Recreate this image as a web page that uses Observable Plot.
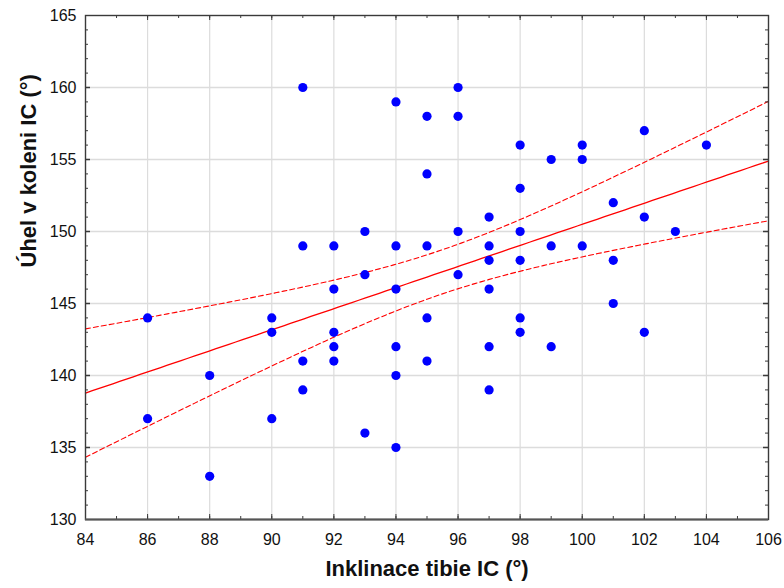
<!DOCTYPE html>
<html>
<head>
<meta charset="utf-8">
<script src="https://cdn.jsdelivr.net/npm/d3@7"></script>
<script src="https://cdn.jsdelivr.net/npm/@observablehq/plot@0.6"></script>
<style>
  html, body { margin: 0; padding: 0; background: #fff; }
  #chart svg { display: block; }
</style>
</head>
<body>
<div id="chart"></div>
<script>
// Inklinace tibie IC (°) vs. úhel v koleni IC (°): one entry per measured knee
const inklinace = [
  86, 86,
  88, 88,
  90, 90, 90,
  91, 91, 91, 91,
  92, 92, 92, 92, 92,
  93, 93, 93,
  94, 94, 94, 94, 94, 94,
  95, 95, 95, 95, 95,
  96, 96, 96, 96,
  97, 97, 97, 97, 97, 97,
  98, 98, 98, 98, 98, 98,
  99, 99, 99,
  100, 100, 100,
  101, 101, 101,
  102, 102, 102,
  103,
  104
];
const uhel = [
  144, 137,
  140, 133,
  144, 143, 137,
  160, 149, 141, 139,
  149, 146, 143, 142, 141,
  150, 147, 136,
  159, 149, 146, 142, 140, 135,
  158, 154, 149, 144, 141,
  160, 158, 150, 147,
  151, 149, 148, 146, 142, 139,
  156, 153, 150, 148, 144, 143,
  155, 149, 142,
  156, 155, 149,
  152, 148, 145,
  157, 151, 143,
  150,
  156
];

// Axis ticks
const xTicks = [84, 86, 88, 90, 92, 94, 96, 98, 100, 102, 104, 106];
const yTicks = [130, 135, 140, 145, 150, 155, 160, 165];
const xMinor = d3.range(84, 107, 1);
const yMinor = d3.range(130, 166, 1);

const xTitle = "Inklinace tibie IC (°)";
const yTitle = "Úhel v koleni IC (°)";

const points = inklinace.map((x, i) => ({x, y: uhel[i]}));

// Ordinary least squares fit with a 95% confidence band for the mean
const n = points.length;
const mx = d3.mean(points, d => d.x);
const my = d3.mean(points, d => d.y);
const sxx = d3.sum(points, d => (d.x - mx) ** 2);
const sxy = d3.sum(points, d => (d.x - mx) * (d.y - my));
const slope = sxy / sxx;
const intercept = my - slope * mx;
const sse = d3.sum(points, d => (d.y - (intercept + slope * d.x)) ** 2);
const se = Math.sqrt(sse / (n - 2));

// Student t quantile (Cornish–Fisher expansion around the normal quantile)
function tQuantile(p, df) {
  const z = 1.959963984540054; // normal quantile for p = 0.975
  const z3 = z ** 3, z5 = z ** 5, z7 = z ** 7;
  return z
    + (z3 + z) / (4 * df)
    + (5 * z5 + 16 * z3 + 3 * z) / (96 * df ** 2)
    + (3 * z7 + 19 * z5 + 17 * z3 - 15 * z) / (384 * df ** 3);
}
const t = tQuantile(0.975, n - 2);

const [x0, x1] = [xTicks[0], xTicks[xTicks.length - 1]];
const fit = d3.range(0, 101).map(i => {
  const x = x0 + (x1 - x0) * i / 100;
  const yhat = intercept + slope * x;
  const half = t * se * Math.sqrt(1 / n + (x - mx) ** 2 / sxx);
  return {x, yhat, lo: yhat - half, hi: yhat + half};
});

const W = 784, H = 588;
const mL = 85, mR = 16, mT = 15, mB = 69;
const plotW = W - mL - mR, plotH = H - mT - mB;
const font = "Arial, 'Liberation Sans', Helvetica, sans-serif";
const gridColor = "#dcdcdc";
const frameColor = "#3a3a3a";

const majorX = xTicks.slice(1, -1);
const majorY = yTicks.slice(1, -1);

const chart = Plot.plot({
  width: W,
  height: H,
  marginLeft: mL,
  marginRight: mR,
  marginTop: mT,
  marginBottom: mB,
  style: {fontFamily: font, background: "#fff", color: "#111"},
  x: {domain: [x0, x1]},
  y: {domain: [yTicks[0], yTicks[yTicks.length - 1]]},
  marks: [
    // grid
    Plot.ruleX(majorX, {stroke: gridColor, strokeWidth: 1.2}),
    Plot.ruleY(majorY, {stroke: gridColor, strokeWidth: 1.6}),

    // fitted line and confidence limits
    Plot.line(fit, {x: "x", y: "hi", stroke: "#ff0000", strokeWidth: 1.1, strokeDasharray: "5,3"}),
    Plot.line(fit, {x: "x", y: "lo", stroke: "#ff0000", strokeWidth: 1.1, strokeDasharray: "5,3"}),
    Plot.line(fit, {x: "x", y: "yhat", stroke: "#ff0000", strokeWidth: 1.3}),

    // observations
    Plot.dot(points, {x: "x", y: "y", r: 4.6, fill: "#0000ff", stroke: "none"}),

    // inward ticks on all four sides of the frame
    Plot.ruleX(xMinor, {stroke: frameColor, insetTop: plotH - 3}),
    Plot.ruleX(xMinor, {stroke: frameColor, insetBottom: plotH - 3}),
    Plot.ruleX(majorX, {stroke: frameColor, insetTop: plotH - 5}),
    Plot.ruleX(majorX, {stroke: frameColor, insetBottom: plotH - 5}),
    Plot.ruleY(yMinor, {stroke: frameColor, insetRight: plotW - 3}),
    Plot.ruleY(yMinor, {stroke: frameColor, insetLeft: plotW - 3}),
    Plot.ruleY(majorY, {stroke: frameColor, insetRight: plotW - 5, strokeWidth: 1.5}),
    Plot.ruleY(majorY, {stroke: frameColor, insetLeft: plotW - 5, strokeWidth: 1.5}),

    Plot.frame({stroke: frameColor, strokeWidth: 1.4}),
    Plot.ruleY([yTicks[0]], {stroke: "#555", strokeWidth: 2.2}),

    // tick labels
    Plot.axisX({ticks: xTicks, tickSize: 0, tickPadding: 14, fontSize: 16, label: null, tickFormat: d => d}),
    Plot.axisY({ticks: yTicks, tickSize: 0, tickPadding: 9, fontSize: 16, label: null, tickFormat: d => d}),

    // axis titles
    Plot.text([xTitle], {frameAnchor: "bottom", dy: 56, text: d => d, fontSize: 22, fontWeight: "bold", fill: "#111"}),
    Plot.text([yTitle], {frameAnchor: "left", dx: -57, rotate: -90, text: d => d, fontSize: 22, fontWeight: "bold", fill: "#111"})
  ]
});

document.getElementById("chart").appendChild(chart);
</script>
</body>
</html>
